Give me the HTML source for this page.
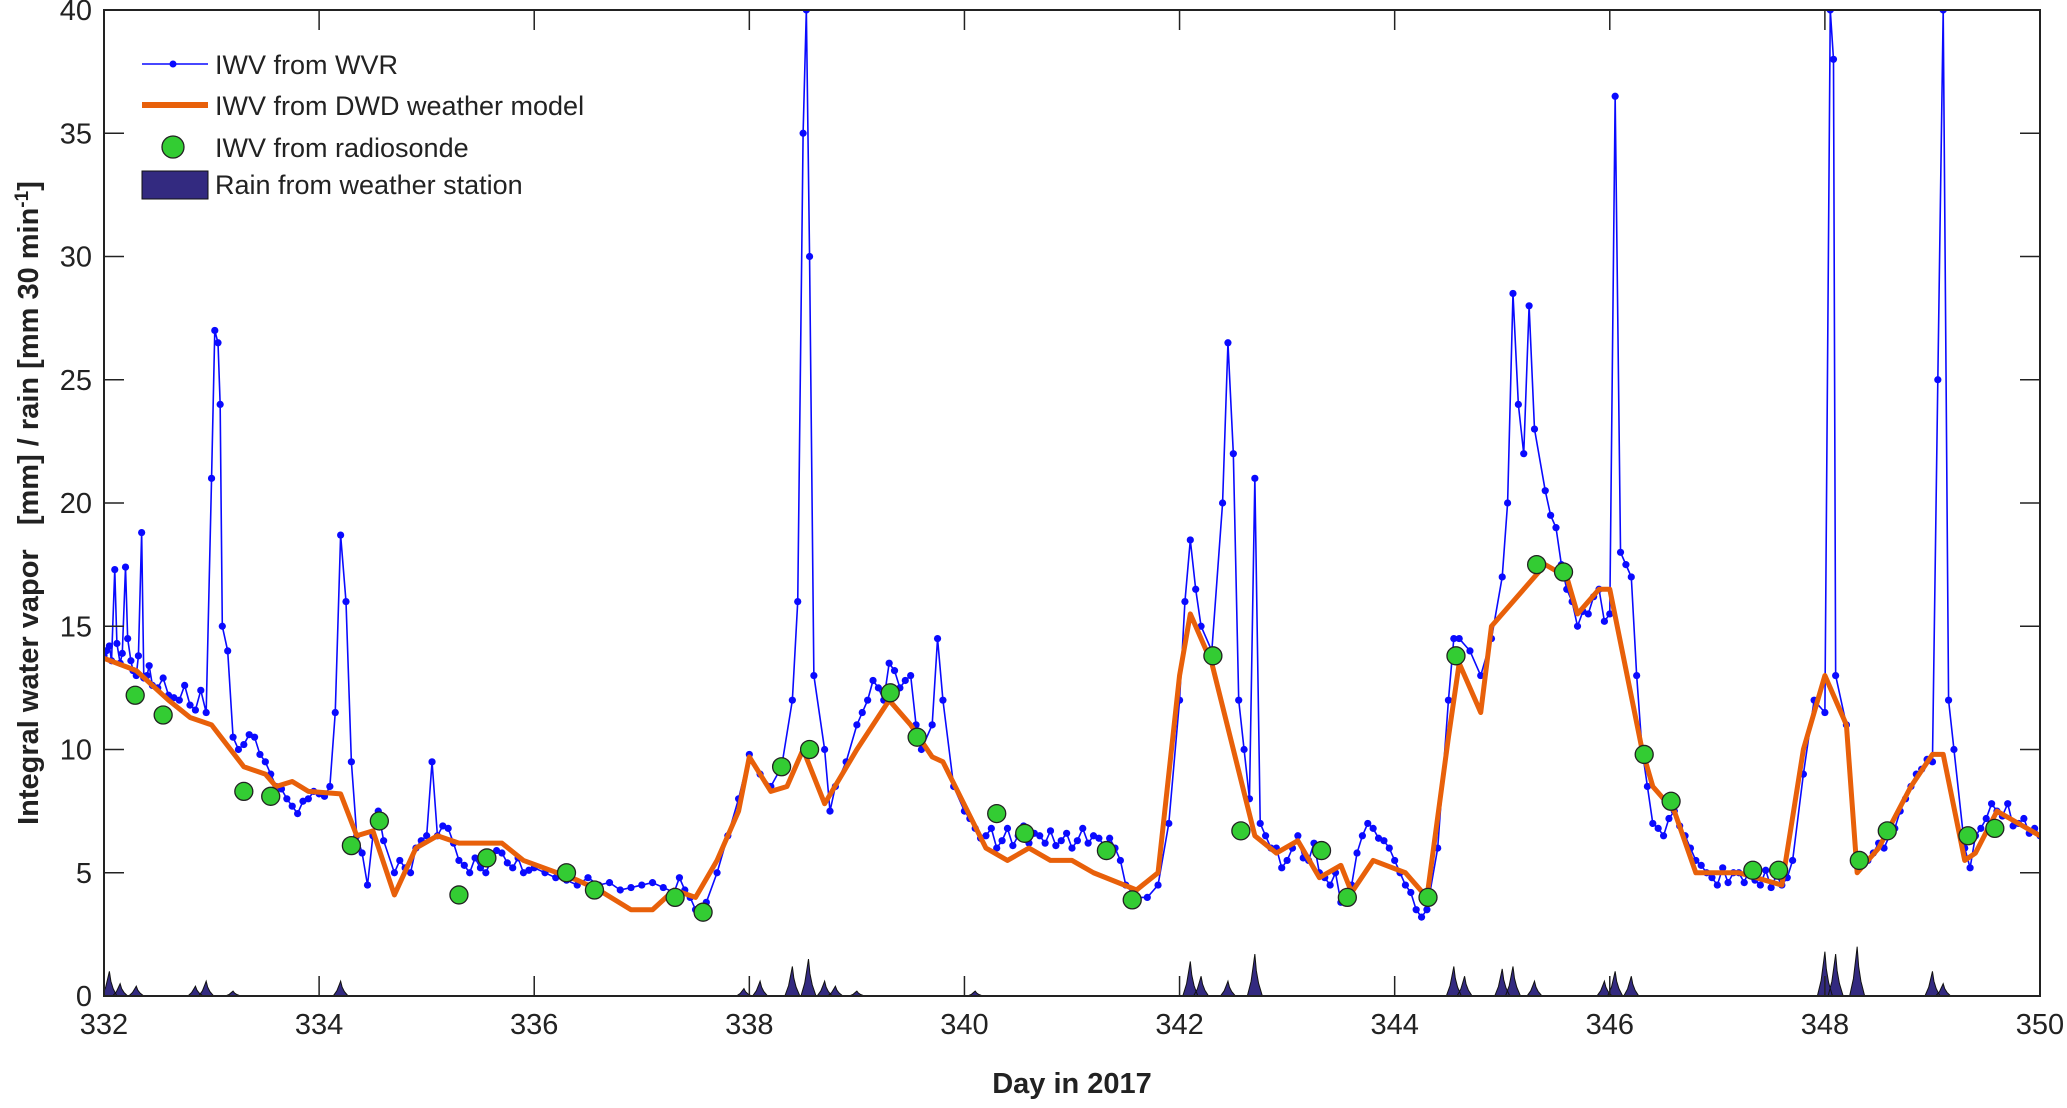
<!DOCTYPE html>
<html><head><meta charset="utf-8"><style>
html,body{margin:0;padding:0;background:#fff;}
svg text{font-family:"Liberation Sans",Arial,sans-serif;fill:#222;}
</style></head><body>
<svg id="chart" width="2067" height="1103" xmlns="http://www.w3.org/2000/svg">
<g id="plot"></g>
</svg>
<script>
const wvrDay=[332.0,332.05,332.1,332.15,332.2,332.25,332.3,332.35,332.4,332.5,332.6,332.7,332.8,332.9,332.95,333.0,333.03,333.06,333.08,333.1,333.15,333.2,333.3,333.4,333.5,333.6,333.7,333.8,333.9,334.0,334.1,334.15,334.2,334.25,334.3,334.35,334.4,334.45,334.5,334.55,334.6,334.7,334.8,334.9,335.0,335.05,335.1,335.2,335.3,335.4,335.5,335.6,335.7,335.8,335.9,336.0,336.2,336.4,336.6,336.8,337.0,337.2,337.4,337.5,337.6,337.7,337.8,337.9,338.0,338.1,338.2,338.3,338.4,338.45,338.5,338.53,338.56,338.6,338.7,338.75,338.8,338.9,339.0,339.1,339.2,339.3,339.4,339.5,339.55,339.6,339.7,339.75,339.8,339.9,340.0,340.1,340.2,340.3,340.5,340.7,340.9,341.0,341.2,341.4,341.5,341.6,341.7,341.8,341.9,342.0,342.05,342.1,342.15,342.2,342.3,342.4,342.45,342.5,342.55,342.6,342.65,342.7,342.75,342.8,342.9,343.0,343.1,343.2,343.3,343.4,343.5,343.6,343.7,343.8,343.9,344.0,344.1,344.2,344.3,344.4,344.5,344.55,344.6,344.7,344.8,344.9,345.0,345.05,345.1,345.15,345.2,345.25,345.3,345.4,345.5,345.6,345.7,345.8,345.9,346.0,346.05,346.1,346.2,346.3,346.4,346.5,346.6,346.7,346.8,346.9,347.0,347.2,347.4,347.6,347.7,347.8,347.9,348.0,348.05,348.08,348.1,348.2,348.3,348.4,348.6,348.8,349.0,349.05,349.1,349.15,349.2,349.3,349.35,349.4,349.6,349.8,350.0];
const wvrVal=[13.8,14.2,17.3,13.5,17.4,13.6,13.0,18.8,13.0,12.5,12.2,12.0,11.8,12.4,11.5,21,27,26.5,24,15,14,10.5,10.2,10.5,9.5,8.5,8.0,7.4,8.0,8.2,8.5,11.5,18.7,16,9.5,6.5,5.8,4.5,6.5,7.5,6.3,5.0,5.2,6.0,6.5,9.5,6.5,6.8,5.5,5.0,5.2,5.5,5.8,5.2,5.0,5.2,4.8,4.5,4.5,4.3,4.5,4.4,4.3,3.5,3.8,5.0,6.5,8.0,9.8,9.0,8.5,9.3,12,16,35,40,30,13,10,7.5,8.5,9.5,11,12,12.5,13.5,12.5,13,11,10,11,14.5,12,8.5,7.5,6.8,6.5,6.0,6.5,6.5,6.3,6.0,6.5,6.0,4.5,4.0,4.0,4.5,7,12,16,18.5,16.5,15,14,20,26.5,22,12,10,8,21,7,6.5,6,5.5,6.5,5.5,5.0,4.5,3.8,4.5,6.5,6.8,6.3,5.5,4.5,3.5,3.5,6,12,14.5,14.5,14,13,14.5,17,20,28.5,24,22,28,23,20.5,19,16.5,15,15.5,16.5,15.5,36.5,18,17,10,7,6.5,7.5,6.5,5.5,5.0,4.5,5.0,4.5,4.5,5.5,9,12,11.5,40,38,13,11,5.5,5.5,6.5,8.5,9.5,25,40,12,10,6,5.2,6.5,7.5,7.0,6.5];
const wvrDay2=[332.02,332.07,332.12,332.17,332.22,332.27,332.32,332.37,332.42,332.45,332.55,332.65,332.75,332.85,333.25,333.35,333.45,333.55,333.65,333.75,333.85,333.95,334.05,334.75,334.85,334.95,335.15,335.25,335.35,335.45,335.55,335.65,335.75,335.85,335.95,336.1,336.3,336.5,336.7,336.9,337.1,337.3,337.35,337.45,339.05,339.15,339.25,339.35,339.45,340.05,340.15,340.25,340.35,340.4,340.45,340.55,340.6,340.65,340.75,340.8,340.85,340.95,341.05,341.1,341.15,341.25,341.3,341.35,341.45,342.85,342.95,343.05,343.15,343.25,343.35,343.45,343.55,343.65,343.75,343.85,343.95,344.05,344.15,344.25,345.45,345.55,345.65,345.75,345.85,345.95,346.15,346.25,346.35,346.45,346.55,346.65,346.75,346.85,346.95,347.05,347.1,347.15,347.25,347.3,347.35,347.45,347.5,347.55,347.65,348.45,348.5,348.55,348.65,348.7,348.75,348.85,348.9,348.95,349.45,349.5,349.55,349.65,349.7,349.75,349.85,349.9,349.95];
const wvrVal2=[14.0,13.6,14.3,13.9,14.5,13.2,13.8,12.9,13.4,12.6,12.9,12.1,12.6,11.6,10.0,10.6,9.8,9.0,8.4,7.7,7.9,8.3,8.1,5.5,5.0,6.3,6.9,6.2,5.3,5.6,5.0,5.9,5.4,5.6,5.1,5.0,4.7,4.8,4.6,4.4,4.6,4.2,4.8,4.0,11.5,12.8,12.0,13.2,12.8,7.2,6.4,6.8,6.3,6.8,6.1,6.9,6.2,6.6,6.2,6.7,6.1,6.6,6.3,6.8,6.2,6.4,6.1,6.4,5.5,6.0,5.2,6.0,5.6,6.2,4.8,5.0,4.2,5.8,7.0,6.4,6.0,5.0,4.2,3.2,19.5,17.5,16.0,15.6,16.2,15.2,17.5,13,8.5,6.8,7.2,6.9,6.0,5.3,4.8,5.2,4.6,5.0,4.6,5.2,4.7,5.1,4.4,4.9,4.8,5.8,6.2,6.0,6.8,7.5,8.0,9.0,9.2,9.6,6.8,7.2,7.8,7.3,7.8,6.9,7.2,6.6,6.8];
const dwdDay=[332,332.3,332.6,332.8,333.0,333.3,333.5,333.6,333.75,333.9,334.2,334.35,334.5,334.7,334.9,335.1,335.3,335.7,335.9,336.4,336.6,336.9,337.1,337.3,337.5,337.7,337.9,338.0,338.2,338.35,338.5,338.7,339.0,339.3,339.5,339.7,339.8,340.2,340.4,340.6,340.8,341.0,341.2,341.6,341.8,342.0,342.1,342.3,342.5,342.7,342.9,343.1,343.3,343.5,343.6,343.8,344.1,344.3,344.5,344.6,344.8,344.9,345.2,345.4,345.6,345.7,345.9,346.0,346.3,346.4,346.6,346.8,347.2,347.6,347.8,348.0,348.2,348.3,348.5,348.8,349.0,349.1,349.3,349.4,349.6,350];
const dwdVal=[13.7,13.2,12.0,11.3,11.0,9.3,9.0,8.5,8.7,8.3,8.2,6.5,6.7,4.1,6.0,6.5,6.2,6.2,5.5,4.7,4.3,3.5,3.5,4.3,4.0,5.5,7.5,9.7,8.3,8.5,10.0,7.8,10.0,12.0,11.0,9.7,9.5,6.0,5.5,6.0,5.5,5.5,5.0,4.3,5.0,13.0,15.5,13.5,10.0,6.5,5.8,6.3,4.8,5.3,4.2,5.5,5.0,4.0,10.5,13.5,11.5,15,16.5,17.5,17.0,15.5,16.5,16.5,10.0,8.5,7.5,5.0,5.0,4.5,10.0,13.0,11.0,5.0,6.0,8.5,9.8,9.8,5.5,5.8,7.5,6.5];
const sondeDay=[332.29,332.55,333.3,333.55,334.3,334.56,335.3,335.56,336.3,336.56,337.31,337.57,338.3,338.56,339.31,339.56,340.3,340.56,341.32,341.56,342.31,342.57,343.32,343.56,344.31,344.57,345.32,345.57,346.32,346.57,347.33,347.57,348.32,348.58,349.33,349.58];
const sondeVal=[12.2,11.4,8.3,8.1,6.1,7.1,4.1,5.6,5.0,4.3,4.0,3.4,9.3,10.0,12.3,10.5,7.4,6.6,5.9,3.9,13.8,6.7,5.9,4.0,4.0,13.8,17.5,17.2,9.8,7.9,5.1,5.1,5.5,6.7,6.5,6.8];
const rainDay=[332.05,332.15,332.3,332.85,332.95,333.2,334.2,337.95,338.1,338.4,338.55,338.7,338.8,339.0,340.1,342.1,342.2,342.45,342.7,344.55,344.65,345.0,345.1,345.3,345.95,346.05,346.2,348.0,348.1,348.3,349.0,349.1];
const rainVal=[1.0,0.5,0.4,0.4,0.6,0.2,0.6,0.3,0.6,1.2,1.5,0.6,0.4,0.2,0.2,1.4,0.8,0.6,1.7,1.2,0.8,1.1,1.2,0.6,0.6,1.0,0.8,1.8,1.7,2.0,1.0,0.5];
const xTicks=[332,334,336,338,340,342,344,346,348,350];
const yTicks=[0,5,10,15,20,25,30,35,40];

const X0=104,X1=2040,Y0=996,Y1=10;
const sx=d=>X0+(d-332)/(350-332)*(X1-X0);
const sy=v=>Y0-(v-0)/(40-0)*(Y0-Y1);
const NS="http://www.w3.org/2000/svg";
const svg=document.getElementById('chart');
const plot=document.getElementById('plot');
function mk(tag,attrs,parent){const e=document.createElementNS(NS,tag);for(const k in attrs)e.setAttribute(k,attrs[k]);(parent||svg).appendChild(e);return e;}

const defs=mk('defs',{});
const cp=mk('clipPath',{id:'clip'},defs);
mk('rect',{x:X0,y:Y1,width:X1-X0,height:Y0-Y1},cp);
plot.setAttribute('clip-path','url(#clip)');

// rain
let rp='';
rainDay.forEach((d,i)=>{const w=0.07;rp+=`M${sx(d-w)},${sy(0)} L${sx(d-w*0.5)},${sy(rainVal[i]*0.35)} L${sx(d-w*0.15)},${sy(rainVal[i]*0.8)} L${sx(d)},${sy(rainVal[i])} L${sx(d+w*0.2)},${sy(rainVal[i]*0.6)} L${sx(d+w*0.5)},${sy(rainVal[i]*0.3)} L${sx(d+w)},${sy(0)} Z `;});
const rain=mk('path',{d:rp,fill:'#332a80',stroke:'#111',"stroke-width":1},plot);



// wvr merged
const pts=wvrDay.map((d,i)=>[d,wvrVal[i]]).concat(wvrDay2.map((d,i)=>[d,wvrVal2[i]])).sort((a,b)=>a[0]-b[0]);
const wl=mk('polyline',{points:pts.map(p=>sx(p[0])+','+sy(p[1])).join(' '),fill:'none',stroke:'#0a0aff',"stroke-width":1.6},plot);


pts.forEach(p=>{
  const c=mk('circle',{cx:sx(p[0]),cy:sy(p[1]),r:3.6,fill:'#0a0aff'},plot);
  
  
});
const dl=mk('polyline',{points:dwdDay.map((d,i)=>sx(d)+','+sy(dwdVal[i])).join(' '),fill:'none',stroke:'#e8600a',"stroke-width":5,"stroke-linejoin":'round'},plot);


sondeDay.forEach((d,i)=>{
  const c=mk('circle',{cx:sx(d),cy:sy(sondeVal[i]),r:9,fill:'#33cc33',stroke:'#222',"stroke-width":1.3},plot);
  
  
});

const box=mk('rect',{x:X0,y:Y1,width:X1-X0,height:Y0-Y1,fill:'none',stroke:'#222',"stroke-width":2});


xTicks.forEach(t=>{
  mk('line',{x1:sx(t),x2:sx(t),y1:Y0,y2:Y0-20,stroke:'#222',"stroke-width":1.5});
  mk('line',{x1:sx(t),x2:sx(t),y1:Y1,y2:Y1+20,stroke:'#222',"stroke-width":1.5});
  const tx=mk('text',{x:sx(t),y:Y0+38,"text-anchor":'middle',"font-size":29});
  tx.textContent=t;
  
  
});
yTicks.forEach(t=>{
  mk('line',{x1:X0,x2:X0+20,y1:sy(t),y2:sy(t),stroke:'#222',"stroke-width":1.5});
  mk('line',{x1:X1,x2:X1-20,y1:sy(t),y2:sy(t),stroke:'#222',"stroke-width":1.5});
  const tx=mk('text',{x:X0-12,y:sy(t)+10,"text-anchor":'end',"font-size":29});
  tx.textContent=t;
  
  
});
</script>
<svg style="position:absolute;left:0;top:0" width="2067" height="1103" xmlns="http://www.w3.org/2000/svg">
<text x="1072" y="1093" text-anchor="middle" font-size="29" font-weight="bold">Day in 2017</text>
<text transform="translate(38,503) rotate(-90)" text-anchor="middle" font-size="29" font-weight="bold" xml:space="preserve">Integral water vapor   [mm] / rain [mm 30 min<tspan dy="-10" font-size="19">-1</tspan><tspan dy="10">]</tspan></text>
<g font-size="27">
<line x1="142" x2="208" y1="64" y2="64" stroke="#0a0aff" stroke-width="1.6"/><circle cx="173" cy="64" r="3.5" fill="#0a0aff"/>
<text x="215" y="74">IWV from WVR</text>
<line x1="142" x2="208" y1="105" y2="105" stroke="#e8600a" stroke-width="6"/>
<text x="215" y="115">IWV from DWD weather model</text>
<circle cx="173" cy="147" r="11" fill="#33cc33" stroke="#222" stroke-width="1.3"/>
<text x="215" y="157">IWV from radiosonde</text>
<rect x="142" y="171" width="66" height="28" fill="#332a80" stroke="#111" stroke-width="1"/>
<text x="215" y="194">Rain from weather station</text>
</g>
</svg>
</body></html>
